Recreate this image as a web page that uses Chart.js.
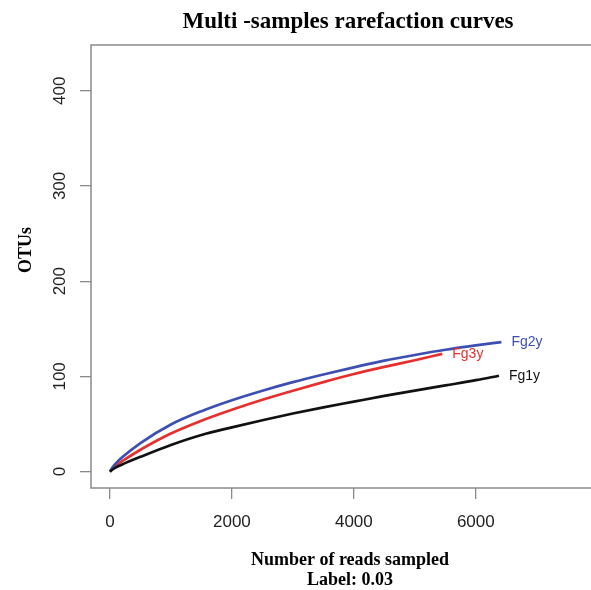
<!DOCTYPE html>
<html>
<head>
<meta charset="utf-8">
<script src="https://cdn.jsdelivr.net/npm/chart.js@4/dist/chart.umd.min.js"></script>
<style>
  html, body { margin: 0; padding: 0; background: #fff; overflow: hidden; }
  #wrap { width: 591px; height: 590px; overflow: hidden; position: relative; }
  #chart { position: absolute; left: 0; top: 0; }
</style>
</head>
<body>
<div id="wrap"><canvas id="chart" width="615" height="590"></canvas></div>
<script>
// data
const xTicks = [0, 2000, 4000, 6000];
const yTicks = [0, 100, 200, 300, 400];
const samples = ['Fg1y', 'Fg2y', 'Fg3y'];
const sampleColors = ['#111111', '#3e4fb4', '#e5302d'];

const fg1yReads = [0, 50, 100, 200, 500, 1000, 1500, 2000, 2500, 3000, 3500, 4000, 4500, 5000, 5500, 6000, 6380];
const fg1yOtus  = [0, 2.5, 4.5, 7.5, 15.5, 28, 38.5, 46.5, 54, 61, 67.5, 73.5, 79.5, 85, 90.5, 96, 100.7];
const fg2yReads = [0, 50, 100, 200, 500, 1000, 1500, 2000, 2500, 3000, 3500, 4000, 4500, 5000, 5500, 6000, 6420];
const fg2yOtus  = [0, 5, 9, 15, 30, 49.5, 63.5, 75, 85, 94, 102, 109.5, 116.5, 122.5, 128, 132.5, 136];
const fg3yReads = [0, 50, 100, 200, 500, 1000, 1500, 2000, 2500, 3000, 3500, 4000, 4500, 5000, 5450];
const fg3yOtus  = [0, 3.5, 6.5, 11, 23, 40, 53.5, 65, 75.5, 85, 94, 102.5, 110, 117, 123.6];

const readsList = [fg1yReads, fg2yReads, fg3yReads];
const otusList = [fg1yOtus, fg2yOtus, fg3yOtus];

const boxGray = '#8a8a8a';
const serif = '"Liberation Serif", "DejaVu Serif", serif';
const sans = '"Liberation Sans", Arial, sans-serif';

// box, tick labels, axis titles and curve labels, R style
const rPlot = {
  id: 'rPlot',
  afterDraw(chart) {
    const ctx = chart.ctx;
    const a = chart.chartArea;
    const xs = chart.scales.x, ys = chart.scales.y;
    ctx.save();
    ctx.strokeStyle = boxGray;
    ctx.lineWidth = 1.5;
    ctx.strokeRect(a.left, a.top, a.right - a.left, a.bottom - a.top);

    ctx.fillStyle = '#222';
    ctx.font = '17px ' + sans;
    ctx.textAlign = 'center';
    ctx.textBaseline = 'middle';
    xTicks.forEach(v => ctx.fillText(String(v), xs.getPixelForValue(v), 522));
    yTicks.forEach(v => {
      ctx.save();
      ctx.translate(60, ys.getPixelForValue(v));
      ctx.rotate(-Math.PI / 2);
      ctx.fillText(String(v), 0, 0);
      ctx.restore();
    });

    // curve labels next to the last point
    ctx.font = '14px ' + sans;
    ctx.textAlign = 'left';
    chart.data.datasets.forEach((ds, i) => {
      const last = ds.data[ds.data.length - 1];
      ctx.fillStyle = sampleColors[i];
      ctx.fillText(samples[i], xs.getPixelForValue(last.x) + 10, ys.getPixelForValue(last.y));
    });

    ctx.fillStyle = '#000';
    ctx.textAlign = 'center';
    ctx.textBaseline = 'alphabetic';
    ctx.font = 'bold 23px ' + serif;
    ctx.fillText('Multi -samples rarefaction curves', 348, 28);
    ctx.font = 'bold 18px ' + serif;
    ctx.fillText('Number of reads sampled', 350, 565);
    ctx.fillText('Label: 0.03', 350, 585);
    ctx.save();
    ctx.translate(31, 250);
    ctx.rotate(-Math.PI / 2);
    ctx.fillText('OTUs', 0, 0);
    ctx.restore();
    ctx.restore();
  }
};

new Chart(document.getElementById('chart'), {
  type: 'line',
  data: {
    datasets: samples.map((name, i) => ({
      label: name,
      data: readsList[i].map((r, j) => ({ x: r, y: otusList[i][j] })),
      borderColor: sampleColors[i],
      borderWidth: 2.7,
      pointRadius: 0,
      fill: false,
      cubicInterpolationMode: 'monotone'
    }))
  },
  options: {
    responsive: false,
    animation: false,
    devicePixelRatio: 1,
    layout: { padding: { left: 0, top: 45, right: 12, bottom: 0 } },
    plugins: { legend: { display: false }, tooltip: { enabled: false }, title: { display: false } },
    scales: {
      x: {
        type: 'linear',
        min: -311,
        max: 8086,
        afterBuildTicks: s => { s.ticks = xTicks.map(v => ({ value: v })); },
        afterFit: s => { s.height = 102; },
        ticks: { display: false },
        border: { display: false },
        grid: { drawOnChartArea: false, drawTicks: true, tickLength: 11, color: boxGray, lineWidth: 1.3 }
      },
      y: {
        type: 'linear',
        min: -17.2,
        max: 448,
        afterBuildTicks: s => { s.ticks = yTicks.map(v => ({ value: v })); },
        afterFit: s => { s.width = 91; },
        ticks: { display: false },
        border: { display: false },
        grid: { drawOnChartArea: false, drawTicks: true, tickLength: 11, color: boxGray, lineWidth: 1.3 }
      }
    }
  },
  plugins: [rPlot]
});
</script>
</body>
</html>
